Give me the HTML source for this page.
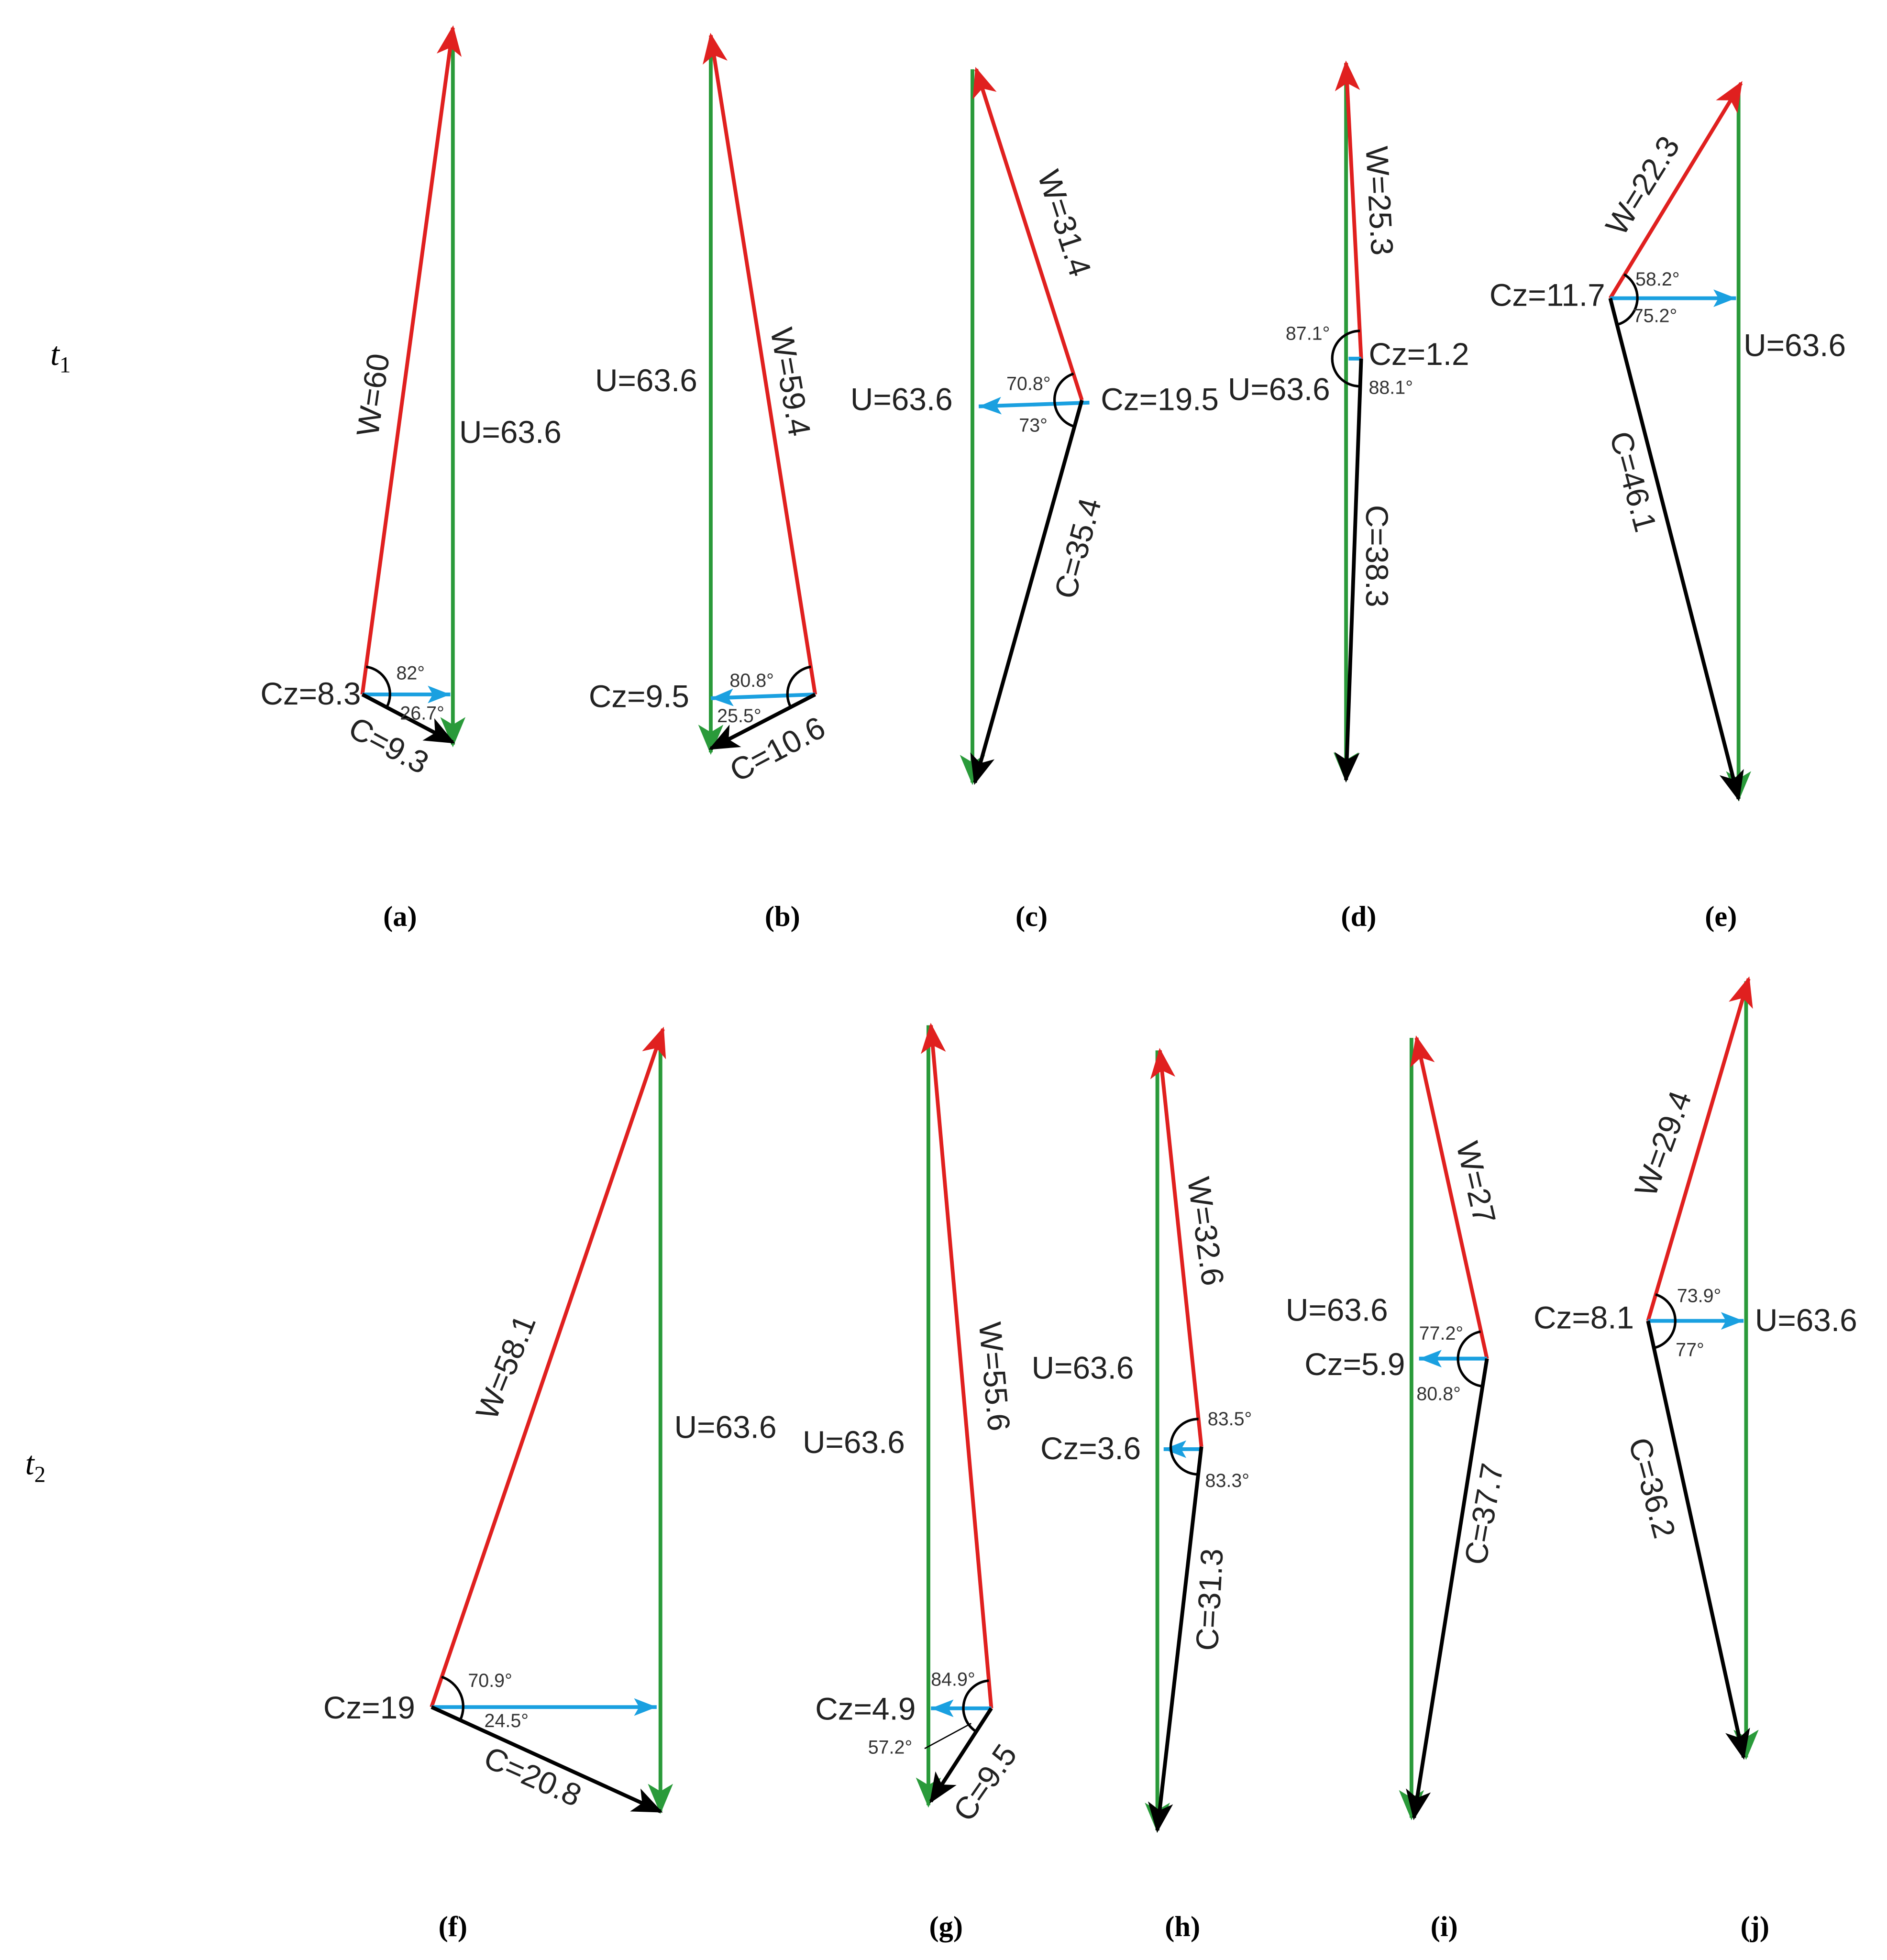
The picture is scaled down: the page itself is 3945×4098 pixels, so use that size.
<!DOCTYPE html>
<html><head><meta charset="utf-8"><style>
html,body{margin:0;padding:0;background:#fff}
svg{display:block}
.l{font-family:"Liberation Sans",sans-serif;font-size:25px;fill:#222}
.s{font-family:"Liberation Sans",sans-serif;font-size:15px;fill:#333}
.c{font-family:"Liberation Serif",serif;font-size:23px;font-weight:bold;fill:#000}
.t{font-family:"Liberation Serif",serif;font-size:26px;font-style:italic;fill:#000}
.r{stroke:#e0201f;stroke-width:3;fill:none}
.g{stroke:#2a9a3a;stroke-width:3;fill:none}
.b{stroke:#1aa0e0;stroke-width:3;fill:none}
.k{stroke:#000;stroke-width:3;fill:none}
.a{stroke:#000;stroke-width:2;fill:none}
</style></head><body>
<svg width="3945" height="4098" viewBox="0 0 1500 1558" xmlns="http://www.w3.org/2000/svg">
<defs>
<marker id="mr" markerUnits="userSpaceOnUse" markerWidth="26" markerHeight="20" refX="22" refY="10" orient="auto"><path d="M0,0 L24,10 L0,20 L6,10z" fill="#e0201f"/></marker>
<marker id="mg" markerUnits="userSpaceOnUse" markerWidth="26" markerHeight="20" refX="22" refY="10" orient="auto"><path d="M0,0 L24,10 L0,20 L6,10z" fill="#2a9a3a"/></marker>
<marker id="mb" markerUnits="userSpaceOnUse" markerWidth="20" markerHeight="14" refX="18" refY="7" orient="auto"><path d="M0,0 L18,7 L0,14 L4,7z" fill="#1aa0e0"/></marker>
<marker id="mk" markerUnits="userSpaceOnUse" markerWidth="26" markerHeight="20" refX="22" refY="10" orient="auto"><path d="M0,0 L24,10 L0,20 L6,10z" fill="#000"/></marker>
</defs>

<text class="t" x="40" y="290">t<tspan font-size="18" dy="6" font-style="normal">1</tspan></text>
<text class="t" x="20" y="1172">t<tspan font-size="18" dy="6" font-style="normal">2</tspan></text>

<!-- (a) -->
<line class="g" x1="360" y1="25" x2="360" y2="592" marker-end="url(#mg)"/>
<line class="r" x1="288" y1="552" x2="360" y2="22" marker-end="url(#mr)"/>
<line class="b" x1="288" y1="552" x2="358" y2="552" marker-end="url(#mb)"/>
<line class="k" x1="288" y1="552" x2="360" y2="590" marker-end="url(#mk)"/>
<path class="a" d="M291,530 A22,22 0 0 1 307.5,562"/>
<text class="l" transform="translate(305,315) rotate(-82)" text-anchor="middle">W=60</text>
<text class="l" x="365" y="352">U=63.6</text>
<text class="l" x="207" y="560">Cz=8.3</text>
<text class="s" x="315" y="540">82°</text>
<text class="s" x="318" y="572">26.7°</text>
<text class="l" transform="translate(305,600) rotate(28)" text-anchor="middle">C=9.3</text>

<!-- (b) -->
<line class="g" x1="565" y1="30" x2="565" y2="598" marker-end="url(#mg)"/>
<line class="r" x1="648" y1="552" x2="565" y2="28" marker-end="url(#mr)"/>
<line class="b" x1="648" y1="552" x2="565" y2="555" marker-end="url(#mb)"/>
<line class="k" x1="648" y1="552" x2="565" y2="595" marker-end="url(#mk)"/>
<path class="a" d="M644.6,530 A22,22 0 0 0 628.5,562"/>
<text class="l" x="473" y="311">U=63.6</text>
<text class="l" transform="translate(620,305) rotate(80)" text-anchor="middle">W=59.4</text>
<text class="l" x="468" y="562">Cz=9.5</text>
<text class="s" x="580" y="546">80.8°</text>
<text class="s" x="570" y="574">25.5°</text>
<text class="l" transform="translate(622,603) rotate(-28)" text-anchor="middle">C=10.6</text>

<!-- (c) -->
<line class="g" x1="773" y1="55" x2="773" y2="622" marker-end="url(#mg)"/>
<line class="r" x1="860" y1="318" x2="776" y2="55" marker-end="url(#mr)"/>
<line class="b" x1="866" y1="320" x2="778" y2="323" marker-end="url(#mb)"/>
<line class="k" x1="860" y1="318" x2="775" y2="622" marker-end="url(#mk)"/>
<path class="a" d="M853.4,297 A22,22 0 0 0 854,339"/>
<text class="l" x="676" y="326">U=63.6</text>
<text class="l" transform="translate(838,180) rotate(72)" text-anchor="middle">W=31.4</text>
<text class="l" x="875" y="326">Cz=19.5</text>
<text class="s" x="800" y="310">70.8°</text>
<text class="s" x="810" y="343">73°</text>
<text class="l" transform="translate(865,438) rotate(-75)" text-anchor="middle">C=35.4</text>

<!-- (d) -->
<line class="g" x1="1070" y1="50" x2="1070" y2="620" marker-end="url(#mg)"/>
<line class="r" x1="1082" y1="285" x2="1070" y2="50" marker-end="url(#mr)"/>
<line class="b" x1="1082" y1="285" x2="1072" y2="285"/>
<line class="k" x1="1082" y1="285" x2="1070" y2="620" marker-end="url(#mk)"/>
<path class="a" d="M1081,263 A22,22 0 0 0 1081,307"/>
<text class="l" transform="translate(1088,160) rotate(87)" text-anchor="middle">W=25.3</text>
<text class="s" x="1022" y="270">87.1°</text>
<text class="l" x="1088" y="290">Cz=1.2</text>
<text class="l" x="976" y="318">U=63.6</text>
<text class="s" x="1088" y="313">88.1°</text>
<text class="l" transform="translate(1086,442) rotate(90)" text-anchor="middle">C=38.3</text>

<!-- (e) -->
<line class="g" x1="1382" y1="68" x2="1382" y2="635" marker-end="url(#mg)"/>
<line class="r" x1="1280" y1="237" x2="1384" y2="66" marker-end="url(#mr)"/>
<line class="b" x1="1280" y1="237" x2="1380" y2="237" marker-end="url(#mb)"/>
<line class="k" x1="1280" y1="237" x2="1382" y2="635" marker-end="url(#mk)"/>
<path class="a" d="M1291,218 A22,22 0 0 1 1285.5,258"/>
<text class="l" transform="translate(1313,152) rotate(-58)" text-anchor="middle">W=22.3</text>
<text class="l" x="1184" y="243">Cz=11.7</text>
<text class="s" x="1300" y="227">58.2°</text>
<text class="s" x="1298" y="256">75.2°</text>
<text class="l" x="1386" y="283">U=63.6</text>
<text class="l" transform="translate(1290,385) rotate(75)" text-anchor="middle">C=46.1</text>

<text class="c" x="318" y="736" text-anchor="middle">(a)</text>
<text class="c" x="622" y="736" text-anchor="middle">(b)</text>
<text class="c" x="820" y="736" text-anchor="middle">(c)</text>
<text class="c" x="1080" y="736" text-anchor="middle">(d)</text>
<text class="c" x="1368" y="736" text-anchor="middle">(e)</text>

<!-- (f) -->
<line class="g" x1="525" y1="822" x2="525" y2="1440" marker-end="url(#mg)"/>
<line class="r" x1="343" y1="1357" x2="527" y2="818" marker-end="url(#mr)"/>
<line class="b" x1="343" y1="1357" x2="522" y2="1357" marker-end="url(#mb)"/>
<line class="k" x1="343" y1="1357" x2="525" y2="1440" marker-end="url(#mk)"/>
<path class="a" d="M351,1333 A25,25 0 0 1 366,1367"/>
<text class="l" transform="translate(410,1090) rotate(-68)" text-anchor="middle">W=58.1</text>
<text class="l" x="536" y="1143">U=63.6</text>
<text class="l" x="257" y="1366">Cz=19</text>
<text class="s" x="372" y="1341">70.9°</text>
<text class="s" x="385" y="1373">24.5°</text>
<text class="l" transform="translate(420,1420) rotate(24)" text-anchor="middle">C=20.8</text>

<!-- (g) -->
<line class="g" x1="738" y1="815" x2="738" y2="1435" marker-end="url(#mg)"/>
<line class="r" x1="788" y1="1358" x2="740" y2="815" marker-end="url(#mr)"/>
<line class="b" x1="788" y1="1358" x2="740" y2="1358" marker-end="url(#mb)"/>
<line class="k" x1="788" y1="1358" x2="740" y2="1432" marker-end="url(#mk)"/>
<path class="a" d="M786,1336 A22,22 0 0 0 776,1376.5"/>
<line x1="735" y1="1390" x2="772" y2="1370" stroke="#000" stroke-width="1"/>
<text class="l" x="638" y="1155">U=63.6</text>
<text class="l" transform="translate(782,1095) rotate(85)" text-anchor="middle">W=55.6</text>
<text class="s" x="740" y="1340">84.9°</text>
<text class="l" x="648" y="1367">Cz=4.9</text>
<text class="s" x="690" y="1394">57.2°</text>
<text class="l" transform="translate(790,1422) rotate(-55)" text-anchor="middle">C=9.5</text>

<!-- (h) -->
<line class="g" x1="920" y1="835" x2="920" y2="1455" marker-end="url(#mg)"/>
<line class="r" x1="955" y1="1150" x2="922" y2="835" marker-end="url(#mr)"/>
<line class="b" x1="955" y1="1152" x2="925" y2="1152" marker-end="url(#mb)"/>
<line class="k" x1="955" y1="1150" x2="920" y2="1455" marker-end="url(#mk)"/>
<path class="a" d="M952.7,1128 A22,22 0 0 0 952.5,1172"/>
<text class="l" transform="translate(950,980) rotate(82)" text-anchor="middle">W=32.6</text>
<text class="l" x="820" y="1096">U=63.6</text>
<text class="s" x="960" y="1133">83.5°</text>
<text class="l" x="827" y="1160">Cz=3.6</text>
<text class="s" x="958" y="1182">83.3°</text>
<text class="l" transform="translate(970,1272) rotate(-87)" text-anchor="middle">C=31.3</text>

<!-- (i) -->
<line class="g" x1="1122" y1="825" x2="1122" y2="1445" marker-end="url(#mg)"/>
<line class="r" x1="1182" y1="1080" x2="1126" y2="825" marker-end="url(#mr)"/>
<line class="b" x1="1182" y1="1080" x2="1128" y2="1080" marker-end="url(#mb)"/>
<line class="k" x1="1182" y1="1080" x2="1124" y2="1445" marker-end="url(#mk)"/>
<path class="a" d="M1177,1058.5 A22,22 0 0 0 1178.5,1102"/>
<text class="l" transform="translate(1165,942) rotate(77)" text-anchor="middle">W=27</text>
<text class="l" x="1022" y="1050">U=63.6</text>
<text class="s" x="1128" y="1065">77.2°</text>
<text class="l" x="1037" y="1093">Cz=5.9</text>
<text class="s" x="1126" y="1113">80.8°</text>
<text class="l" transform="translate(1188,1205) rotate(-80)" text-anchor="middle">C=37.7</text>

<!-- (j) -->
<line class="g" x1="1388" y1="780" x2="1388" y2="1397" marker-end="url(#mg)"/>
<line class="r" x1="1310" y1="1050" x2="1390" y2="778" marker-end="url(#mr)"/>
<line class="b" x1="1310" y1="1050" x2="1386" y2="1050" marker-end="url(#mb)"/>
<line class="k" x1="1310" y1="1050" x2="1386" y2="1397" marker-end="url(#mk)"/>
<path class="a" d="M1316,1029 A22,22 0 0 1 1314.7,1071.5"/>
<text class="l" transform="translate(1330,912) rotate(-70)" text-anchor="middle">W=29.4</text>
<text class="l" x="1219" y="1056">Cz=8.1</text>
<text class="s" x="1333" y="1035">73.9°</text>
<text class="l" x="1395" y="1058">U=63.6</text>
<text class="s" x="1332" y="1078">77°</text>
<text class="l" transform="translate(1305,1185) rotate(75)" text-anchor="middle">C=36.2</text>

<text class="c" x="360" y="1539" text-anchor="middle">(f)</text>
<text class="c" x="752" y="1539" text-anchor="middle">(g)</text>
<text class="c" x="940" y="1539" text-anchor="middle">(h)</text>
<text class="c" x="1148" y="1539" text-anchor="middle">(i)</text>
<text class="c" x="1395" y="1539" text-anchor="middle">(j)</text>
</svg>
</body></html>
